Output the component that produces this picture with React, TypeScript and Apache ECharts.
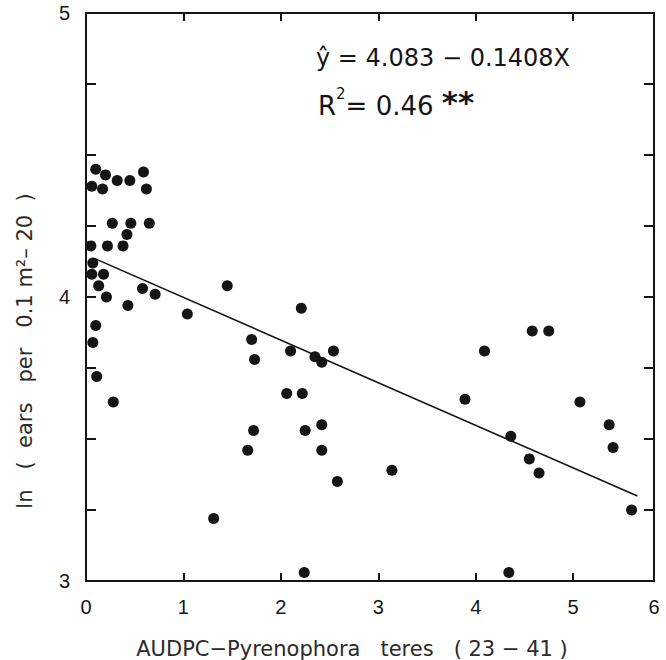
import React, { useEffect, useRef } from "react";
import * as echarts from "echarts";

// AUDPC - Pyrenophora teres (23-41)
const audpc = [
  0.10, 0.20, 0.32, 0.45, 0.59, 0.06, 0.17, 0.62, 0.27, 0.46,
  0.65, 0.42, 0.05, 0.22, 0.38, 0.07, 0.06, 0.18, 0.13, 0.21,
  0.58, 0.71, 0.43, 1.04, 1.45, 2.21, 0.10, 0.07, 0.11, 0.28,
  1.31, 1.70, 1.73, 1.72, 1.66, 2.10, 2.06, 2.22, 2.25, 2.35,
  2.42, 2.42, 2.42, 2.54, 2.58, 2.24, 3.14, 3.89, 4.09, 4.58,
  4.75, 4.36, 4.55, 4.65, 4.34, 5.07, 5.37, 5.41, 5.60,
];
// ln (ears per 0.1 m2 - 20)
const lnEars = [
  4.45, 4.43, 4.41, 4.41, 4.44, 4.39, 4.38, 4.38, 4.26, 4.26,
  4.26, 4.22, 4.18, 4.18, 4.18, 4.12, 4.08, 4.08, 4.04, 4.00,
  4.03, 4.01, 3.97, 3.94, 4.04, 3.96, 3.90, 3.84, 3.72, 3.63,
  3.22, 3.85, 3.78, 3.53, 3.46, 3.81, 3.66, 3.66, 3.53, 3.79,
  3.77, 3.55, 3.46, 3.81, 3.35, 3.03, 3.39, 3.64, 3.81, 3.88,
  3.88, 3.51, 3.43, 3.38, 3.03, 3.63, 3.55, 3.47, 3.25,
];
// fitted regression line (as drawn)
const fitX = [0.085, 5.66];
const fitY = [4.136, 3.299];

const xMin = 0;
const xMax = 5.83;
const xLastLabel = "6";
const yMin = 3;
const yMax = 5;
const yLabels = [3, 4, 5];

const equationText = "ŷ = 4.083 − 0.1408X";
const xTitle = "AUDPC−Pyrenophora   teres   ( 23 − 41 )";
const yTitle = "ln   (  ears   per   0.1 m²– 20  )";

const INK = "#151515";

export default function App() {
  const ref = useRef<HTMLDivElement>(null);
  useEffect(() => {
    if (!ref.current) return;
    const chart = echarts.init(ref.current, null, { renderer: "svg" });
    const points = audpc.map((x, i) => [x, lnEars[i]]);
    const fit = fitX.map((x, i) => [x, fitY[i]]);
    const axisLine = { show: true, onZero: false, lineStyle: { color: INK, width: 2 } };
    const labelFont = { fontFamily: "Liberation Sans", fontSize: 20, color: INK };
    chart.setOption({
      animation: false,
      backgroundColor: "#ffffff",
      grid: { left: 86, right: 12, top: 13, bottom: 79, containLabel: false },
      xAxis: [
        {
          type: "value",
          min: xMin,
          max: xMax,
          interval: 1,
          position: "bottom",
          axisLine,
          axisTick: { show: true, inside: true, length: 8, lineStyle: { color: INK, width: 2 } },
          axisLabel: {
            ...labelFont,
            margin: 16,
            showMaxLabel: true,
            showMinLabel: true,
            formatter: (v: number) => (v > 5.5 ? xLastLabel : String(v)),
          },
          splitLine: { show: false },
        },
        {
          type: "value",
          min: xMin,
          max: xMax,
          interval: 1,
          position: "top",
          axisLine,
          axisTick: { show: true, inside: true, length: 8, lineStyle: { color: INK, width: 2 } },
          axisLabel: { show: false },
          splitLine: { show: false },
        },
      ],
      yAxis: [
        {
          type: "value",
          min: yMin,
          max: yMax,
          interval: 0.25,
          position: "left",
          axisLine,
          axisTick: { show: true, inside: true, length: 10, lineStyle: { color: INK, width: 2 } },
          axisLabel: {
            ...labelFont,
            margin: 16,
            formatter: (v: number) => (yLabels.includes(v) ? String(v) : ""),
          },
          splitLine: { show: false },
        },
        {
          type: "value",
          min: yMin,
          max: yMax,
          interval: 0.25,
          position: "right",
          axisLine,
          axisTick: { show: true, inside: true, length: 10, lineStyle: { color: INK, width: 2 } },
          axisLabel: { show: false },
          splitLine: { show: false },
        },
      ],
      series: [
        {
          type: "line",
          data: fit,
          symbol: "none",
          lineStyle: { color: INK, width: 1.6 },
          z: 2,
        },
        {
          type: "scatter",
          data: points,
          symbol: "circle",
          symbolSize: 11,
          itemStyle: { color: INK, opacity: 1 },
          z: 3,
        },
      ],
      graphic: [
        {
          type: "text",
          left: 316,
          top: 46,
          style: {
            text: equationText,
            font: "24px 'DejaVu Sans'",
            fill: INK,
          },
        },
        {
          type: "text",
          left: 318,
          top: 86,
          style: {
            text: "R{sup|2}= 0.46 {ast|**}",
            font: "26px 'DejaVu Sans'",
            fill: INK,
            rich: {
              sup: { fontSize: 15, fontFamily: "DejaVu Sans", verticalAlign: "top", padding: [0, 0, 12, 0], fill: INK },
              ast: { fontSize: 31, fontWeight: "bold", fontFamily: "DejaVu Sans", padding: [0, 0, 8, 0], fill: INK },
            },
          },
        },
        {
          type: "text",
          x: 352,
          y: 649,
          style: {
            text: xTitle,
            font: "21px 'DejaVu Sans'",
            fill: "#2a2a2a",
            align: "center",
            verticalAlign: "middle",
          },
        },
        {
          type: "text",
          x: 25,
          y: 351,
          rotation: Math.PI / 2,
          style: {
            text: yTitle,
            font: "21px 'DejaVu Sans'",
            fill: "#2a2a2a",
            align: "center",
            verticalAlign: "middle",
          },
        },
      ],
    });
    return () => chart.dispose();
  }, []);
  return (
    <div
      ref={ref}
      style={{ position: "fixed", left: 0, top: 0, width: 666, height: 660, background: "#fff" }}
    />
  );
}
